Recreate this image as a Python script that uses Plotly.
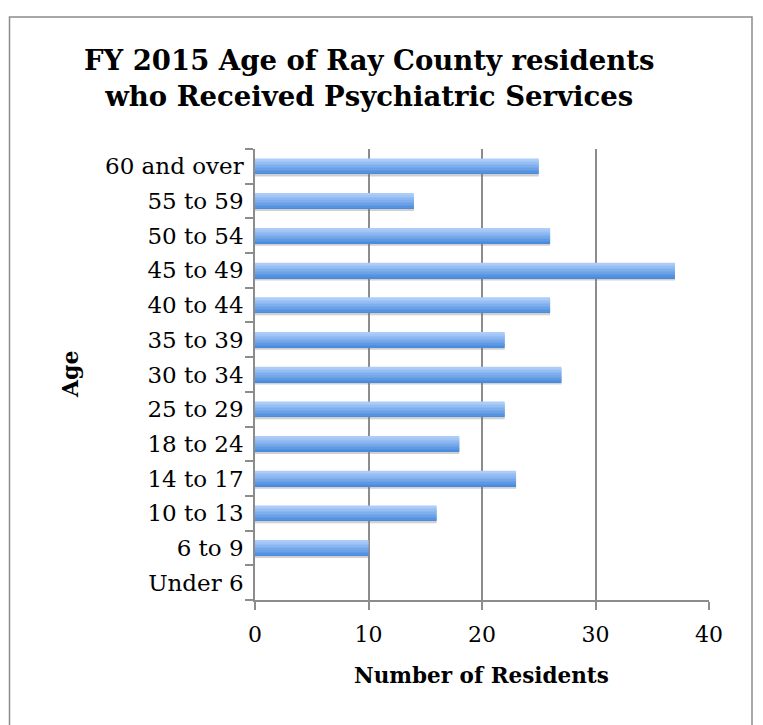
import plotly.graph_objects as go

categories = ["Under 6", "6 to 9", "10 to 13", "14 to 17", "18 to 24", "25 to 29",
              "30 to 34", "35 to 39", "40 to 44", "45 to 49", "50 to 54", "55 to 59",
              "60 and over"]
residents = [0, 10, 16, 23, 18, 22, 27, 22, 26, 37, 26, 14, 25]
x_ticks = [0, 10, 20, 30, 40]

FONT = "DejaVu Serif"
fig = go.Figure()

bar_w = 0.44
# shadow
fig.add_trace(go.Bar(y=categories, x=residents, orientation="h", width=bar_w,
                     offset=-bar_w / 2 - 0.07, marker=dict(color="rgba(120,120,120,0.35)", line_width=0),
                     hoverinfo="skip", showlegend=False))
# gradient layers (bottom dark -> top light)
n = 10
dark = (74, 139, 220)
light = (172, 204, 250)
for i in range(n):
    t = i / (n - 1)
    c = tuple(round(dark[k] + (light[k] - dark[k]) * t) for k in range(3))
    fig.add_trace(go.Bar(y=categories, x=residents, orientation="h", width=bar_w / n + 0.004,
                         offset=-bar_w / 2 + i * bar_w / n,
                         marker=dict(color="rgb(%d,%d,%d)" % c, line_width=0),
                         hoverinfo="x+y" if i == 0 else "skip", showlegend=False))

L, R, T, B = 255, 709, 149, 600
PW, PH = R - L, B - T


def px(x):
    return (x - L) / PW


def py(y):
    return (B - y) / PH


fig.update_layout(
    width=763, height=725,
    margin=dict(l=L, r=763 - R, t=T, b=725 - B),
    paper_bgcolor="white", plot_bgcolor="white",
    barmode="overlay",
    font=dict(family=FONT, color="black"),
    xaxis=dict(range=[0, 40], tickvals=x_ticks, showgrid=True, gridcolor="#8c8c8c", gridwidth=1.5,
               showline=True, linecolor="#8c8c8c", linewidth=1.5, ticks="outside", ticklen=8,
               tickcolor="#8c8c8c", tickwidth=1.5, tickfont=dict(size=22, family=FONT),
               zeroline=False, ticklabelstandoff=6),
    yaxis=dict(categoryorder="array", categoryarray=categories, tickson="boundaries",
               showline=True, linecolor="#8c8c8c", linewidth=1.5, ticks="outside", ticklen=8,
               tickcolor="#8c8c8c", tickwidth=1.5, tickfont=dict(size=23, family=FONT),
               showgrid=False, ticklabelstandoff=5),
)

fig.add_annotation(text="<b>FY 2015 Age of Ray County residents<br>who Received Psychiatric Services</b>",
                   xref="paper", yref="paper", x=px(369), y=py(78), xanchor="center", yanchor="middle",
                   showarrow=False, font=dict(size=27.5, family=FONT, color="black"))
fig.add_annotation(text="<b>Number of Residents</b>", xref="paper", yref="paper",
                   x=px(481), y=py(675), xanchor="center", yanchor="middle",
                   showarrow=False, font=dict(size=21.5, family=FONT, color="black"))
fig.add_annotation(text="<b>Age</b>", xref="paper", yref="paper", textangle=-90,
                   x=px(70), y=py(375), xanchor="center", yanchor="middle",
                   showarrow=False, font=dict(size=22, family=FONT, color="black"))

fig.add_shape(type="rect", xref="paper", yref="paper",
              x0=px(9.5), x1=px(752), y0=py(740), y1=py(17),
              line=dict(color="#8c8c8c", width=1.5), fillcolor="rgba(0,0,0,0)", layer="below")

fig.write_html("out.html")
